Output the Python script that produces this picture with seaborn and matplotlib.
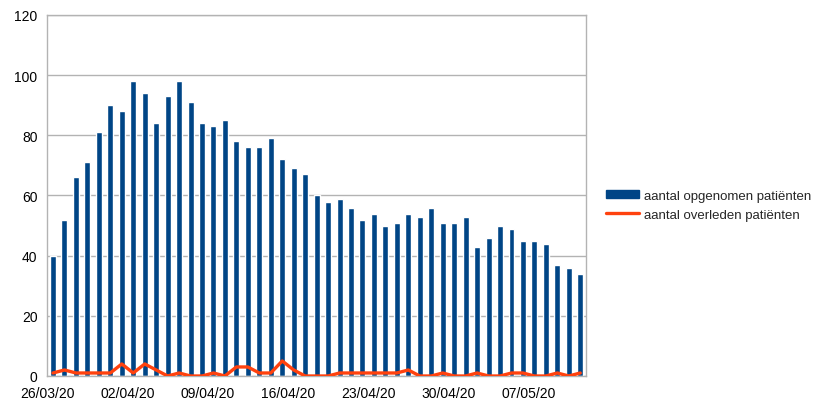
import pandas as pd
import matplotlib
matplotlib.use("Agg")
import matplotlib.pyplot as plt
import seaborn as sns
from matplotlib.patches import Patch
from matplotlib.lines import Line2D

# ==========================================
#               DATA
# ==========================================
days = pd.date_range("2020-03-26", periods=47).strftime("%d/%m/%y").tolist()

opgenomen = [40, 52, 66, 71, 81, 90, 88, 98, 94, 84, 93, 98, 91, 84, 83, 85,
             78, 76, 76, 79, 72, 69, 67, 60, 58, 59, 56, 52, 54, 50, 51, 54,
             53, 56, 51, 51, 53, 43, 46, 50, 49, 45, 45, 44, 37, 36, 34]

overleden = [1, 2, 1, 1, 1, 1, 4, 1, 4, 2, 0, 1, 0, 0, 1, 0,
             3, 3, 1, 1, 5, 2, 0, 0, 0, 1, 1, 1, 1, 1, 1, 2,
             0, 0, 1, 0, 0, 1, 0, 0, 1, 1, 0, 0, 1, 0, 1]

tick_labels = ["26/03/20", "02/04/20", "09/04/20", "16/04/20",
               "23/04/20", "30/04/20", "07/05/20"]

df = pd.DataFrame({"dag": days, "idx": range(len(days)),
                   "opgenomen": opgenomen, "overleden": overleden})

# ==========================================
#               PLOT
# ==========================================
sns.set_style("white")
plt.rcParams["font.family"] = ["Liberation Sans", "DejaVu Sans"]

blue = "#004586"
orange = "#ff420e"
grey = "#b3b3b3"

fig = plt.figure(figsize=(8.15, 4.10), dpi=100)
ax = fig.add_axes([0.058, 0.0805, 0.661, 0.8805])

sns.barplot(data=df, x="dag", y="opgenomen", color=blue, width=0.52,
            saturation=1, ax=ax, zorder=2)
sns.lineplot(x=df["idx"], y=df["overleden"], color=orange, linewidth=2.4,
             ax=ax, zorder=3, solid_joinstyle="round")

ax.set_xlim(-0.5, len(days) - 0.5)
ax.set_ylim(0, 120)
ax.set_yticks(range(0, 121, 20))
ax.set_xticks([-0.5 + 7 * i for i in range(len(tick_labels))])
ax.set_xticklabels(tick_labels)
ax.set_xlabel("")
ax.set_ylabel("")

ax.yaxis.grid(True, color=grey, linewidth=1)
ax.set_axisbelow(True)
for s in ax.spines.values():
    s.set_color(grey)
    s.set_linewidth(1)
ax.tick_params(axis="both", direction="out", length=5, width=1, color=grey,
               labelsize=10, labelcolor="black", pad=2)

handles = [Patch(facecolor=blue, edgecolor=blue),
           Line2D([0], [0], color=orange, linewidth=2.4)]
fig.legend(handles, ["aantal opgenomen patiënten", "aantal overleden patiënten"],
           loc="center left", bbox_to_anchor=(0.729, 0.497), frameon=False,
           fontsize=9.5, handlelength=2.5, handleheight=0.5, handletextpad=0.4,
           labelspacing=0.5)

fig.savefig("out.png", dpi=100)
